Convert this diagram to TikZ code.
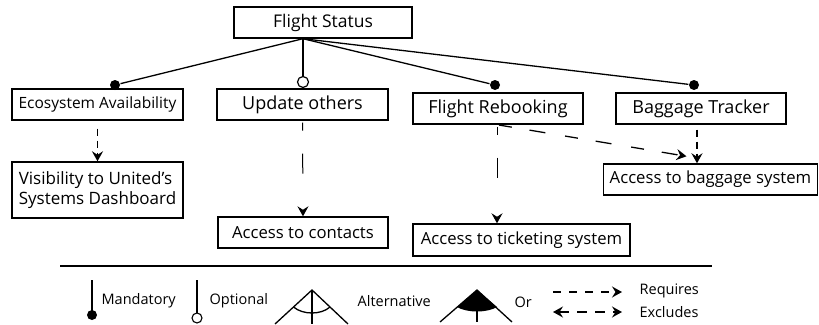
\documentclass[tikz,border=0pt]{standalone}
\usepackage{fontspec}
\setmainfont{Open Sans}
\usetikzlibrary{arrows.meta}
\tikzset{
  box/.style={draw, line width=1.4pt, inner sep=0pt, minimum height=31pt},
  mand/.style={circle, fill, inner sep=0pt, minimum size=10pt},
  opt/.style={circle, draw, fill=white, line width=1.2pt, inner sep=0pt, minimum size=11pt},
  reqhead/.tip={Stealth[length=10pt, width=11pt, inset=3.5pt]},
  tip/.style={-reqhead},
  reqshort/.style={tip, line width=1.5pt, dash pattern=on 7pt off 5pt},
  reqlong/.style={tip, line width=1pt, dash pattern=on 8pt off 23pt on 20pt off 40pt},
  reqdiag/.style={tip, line width=1.3pt, dash pattern=on 13pt off 18pt on 16pt off 20pt},
  lgd/.style={anchor=west, inner sep=0pt, font=\fontsize{14.5}{16}\selectfont}
}
\begin{document}
\begin{tikzpicture}[x=1pt, y=-1pt, line width=1.3pt]
    \useasboundingbox (0,0) rectangle (819,324) ;
    % features
    \node[box, minimum width=178pt, font=\fontsize{17.5}{20}\selectfont] (fs) at (323, 22.5) {Flight Status} ;
    \node[box, minimum width=171pt, font=\fontsize{15.5}{18}\selectfont] (ea) at (97.5, 104.5) {Ecosystem Availability} ;
    \node[box, minimum width=171pt, font=\fontsize{18}{20}\selectfont] (uo) at (302.5, 104.5) {Update others} ;
    \node[box, minimum width=170pt, font=\fontsize{18}{20}\selectfont] (fr) at (498, 108.5) {Flight Rebooking} ;
    \node[box, minimum width=170pt, font=\fontsize{18}{20}\selectfont] (bt) at (701, 108.5) {Baggage Tracker} ;
    \node[box, minimum width=171pt, minimum height=56pt, align=left,
      font=\fontsize{17}{20}\selectfont] (vis) at (97.5, 190) {Visibility to United’s\\Systems Dashboard} ;
    \node[box, minimum width=170pt, font=\fontsize{16.7}{19}\selectfont] (ac) at (303, 232.5) {Access to contacts} ;
    \node[box, minimum width=217pt, minimum height=32pt, font=\fontsize{16.7}{19}\selectfont] (at) at (521.5, 240) {Access to ticketing system} ;
    \node[box, minimum width=214pt, font=\fontsize{16.7}{19}\selectfont] (ab) at (710.5, 179.5) {Access to baggage system} ;
    % decomposition
    \coordinate (fs root) at ([xshift=-20pt]fs.south) ;
    \node[mand] (ea dot) at (115, 85) {} ;
    \node[opt] (uo dot) at (303, 82) {} ;
    \node[mand] (fr dot) at (495, 85) {} ;
    \node[mand] (bt dot) at (694, 85) {} ;
    \draw (fs root) -- (ea dot) ;
    \draw (fs root) -- (uo dot) ;
    \draw (fs root) -- (fr dot) ;
    \draw (fs root) -- (bt dot) ;
    % requires
    \draw[reqshort, shorten <=8pt] (ea) -- (vis) ;
    \draw[reqlong, shorten <=2pt] (uo.south) -- (ac.north) ;
    \draw[reqlong, shorten <=2pt] ([xshift=-1pt]fr.south) -- ([xshift=-1pt]fr.south |- at.north) ;
    \draw[reqdiag, shorten <=2pt] ([xshift=-1pt]fr.south) -- ([xshift=-24pt, yshift=7pt]ab.north) ;
    \draw[reqshort, shorten <=5pt] ([xshift=-4pt]bt.south) -- ([xshift=-4pt]bt.south |- ab.north) ;
    % legend
    \draw (60, 266) -- (712, 266) ;
    \draw (92, 280) -- (92, 311) ;
    \fill (92, 315) circle (5) ;
    \node[lgd] (l mand) at (101, 301) {Mandatory} ;
    \draw (197, 280) -- (197, 313) ;
    \draw[fill=white, line width=1.1pt] (197, 318) circle (5) ;
    \node[lgd] (l opt) at (209, 301) {Optional} ;
    \draw (275, 324) -- (312, 290) -- (348, 324) ;
    \draw (312, 290) -- (312, 324) ;
    \draw (293.5, 307) .. controls (303, 315) and (321, 315) .. (330, 307) ;
    \node[lgd] (l alt) at (357, 301) {Alternative} ;
    \draw (440, 322) -- (477, 290) -- (512, 322) ;
    \fill (477, 290) -- (457, 307) .. controls (467, 313) and (487, 313) .. (497, 307) -- cycle ;
    \draw (477, 306) -- (477, 322) ;
    \node[lgd] (l or) at (514, 302) {Or} ;
    \coordinate (req a) at (553, 292) ;
    \coordinate (req b) at (622, 292) ;
    \coordinate (exc a) at (553, 312) ;
    \coordinate (exc b) at (622, 312) ;
    \draw[tip, dash pattern=on 8pt off 8pt] (req a) -- (req b) ;
    \draw[reqhead-reqhead, dash pattern=on 10pt off 8pt] (exc a) -- (exc b) ;
    \node[lgd] (l req) at (639, 291) {Requires} ;
    \node[lgd] (l exc) at (639, 312) {Excludes} ;
\end{tikzpicture}
\end{document}
